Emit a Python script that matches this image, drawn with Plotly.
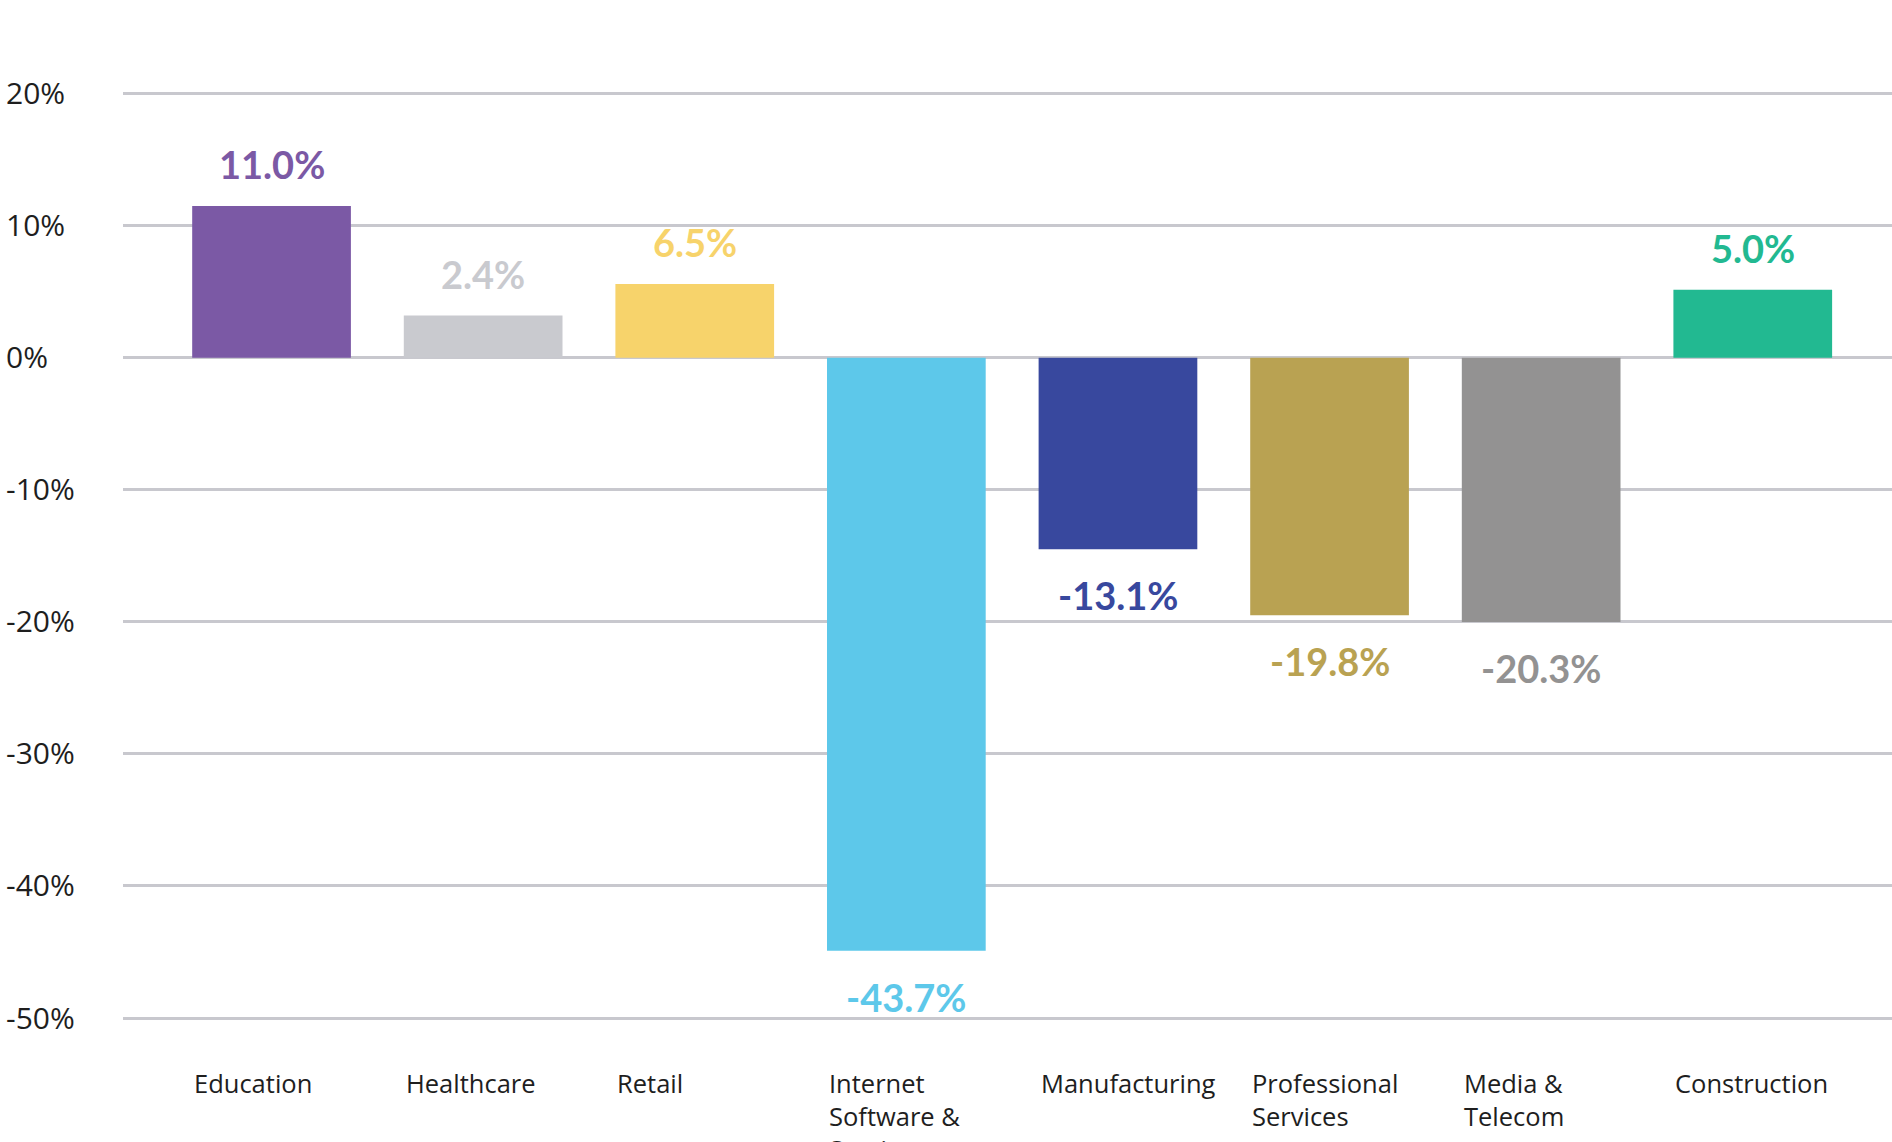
import plotly.graph_objects as go

categories = ["Education", "Healthcare", "Retail", "Internet<br>Software &<br>Services",
              "Manufacturing", "Professional<br>Services", "Media &<br>Telecom", "Construction"]
bar_values = [11.5, 3.2, 5.6, -44.9, -14.5, -19.5, -20.0, 5.15]
value_labels = ["11.0%", "2.4%", "6.5%", "-43.7%", "-13.1%", "-19.8%", "-20.3%", "5.0%"]
colors = ["#7B59A5", "#C9CACF", "#F7D36B", "#5DC8EA", "#38489E", "#B9A252", "#939292", "#22B991"]
tick_values = [20, 10, 0, -10, -20, -30, -40, -50]
tick_labels = [f"{v}%" for v in tick_values]

BAR_W = 0.75
xs = list(range(len(categories)))

fig = go.Figure()
fig.add_trace(go.Bar(x=xs, y=bar_values, width=BAR_W, marker=dict(color=colors, line=dict(width=0)),
                     hoverinfo="skip"))

annotations = []
for x, v, lab, c in zip(xs, bar_values, value_labels, colors):
    annotations.append(dict(x=x, y=v, xref="x", yref="y", text=lab, showarrow=False,
                            xanchor="center", yanchor="middle",
                            yshift=42 if v >= 0 else -46,
                            font=dict(family="Lato", size=38, color=c, weight="bold")))
for x, cat in zip(xs, categories):
    annotations.append(dict(x=x - BAR_W / 2, y=-53.5, xref="x", yref="y", text=cat, showarrow=False,
                            xanchor="left", yanchor="top", align="left",
                            font=dict(family="Open Sans", size=25.5, color="#1E1E1E")))
for tv, tl in zip(tick_values, tick_labels):
    annotations.append(dict(x=-0.0675, y=tv, xref="paper", yref="y", text=tl, showarrow=False,
                            xanchor="left", yanchor="middle", yshift=1,
                            font=dict(family="Open Sans", size=30, color="#1E1E1E")))

fig.update_layout(
    width=1892, height=1142,
    margin=dict(l=123, r=0, t=0, b=0),
    paper_bgcolor="white", plot_bgcolor="white",
    showlegend=False,
    bargap=0.25,
    annotations=annotations,
    xaxis=dict(range=[-0.702, 7.658], showticklabels=False, showgrid=False, zeroline=False,
               showline=False, fixedrange=True),
    yaxis=dict(range=[-59.39, 27.10], tickvals=tick_values, showticklabels=False,
               showgrid=True, gridcolor="#C8C8CE", gridwidth=3, zeroline=False,
               showline=False, fixedrange=True),
)

fig.write_html("out.html", config={"displayModeBar": False},
               post_script="document.body.style.margin='0';document.body.style.overflow='hidden';")
